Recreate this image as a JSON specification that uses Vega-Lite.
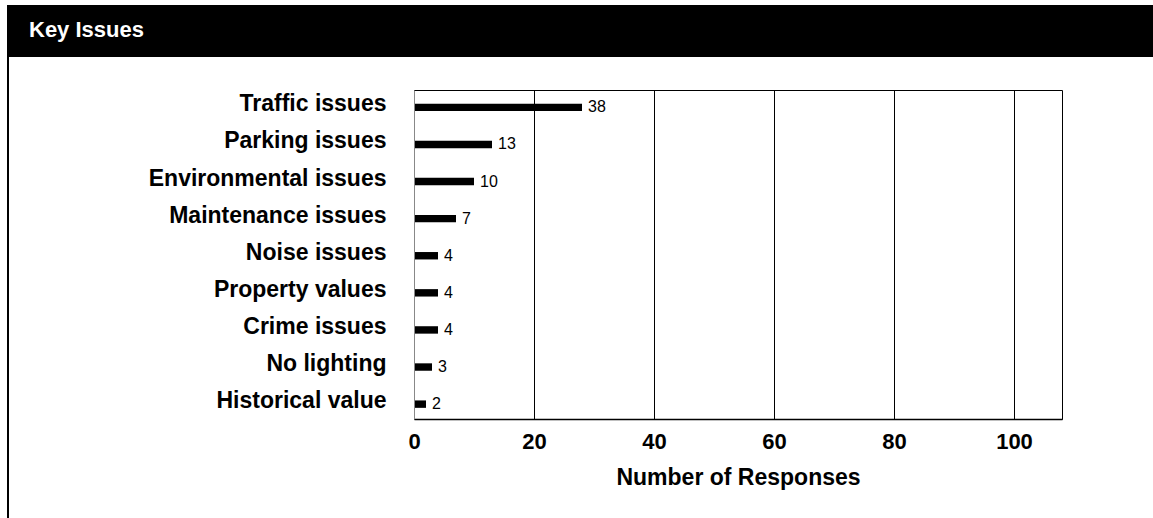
{
  "$schema": "https://vega.github.io/schema/vega-lite/v6.json",
  "padding": {"left": 7, "top": 5, "right": 0, "bottom": 0},
  "background": "white",
  "spacing": 0,
  "config": {"font": "Liberation Sans", "view": {"stroke": null}, "concat": {"spacing": 0}},
  "hconcat": [
    {
      "data": {"values": []},
      "mark": "rect",
      "encoding": {},
      "width": 2,
      "height": 513,
      "view": {"fill": "#000", "stroke": null}
    },
    {
      "spacing": 32,
      "vconcat": [
        {
          "data": {"values": []},
          "mark": "rect",
          "encoding": {},
          "width": 1144,
          "height": 52,
          "view": {"fill": "#000", "stroke": null},
          "title": {
            "text": "Key Issues",
            "orient": "bottom",
            "anchor": "start",
            "offset": -20,
            "baseline": "alphabetic",
            "dx": 20,
            "color": "#fff",
            "fontSize": 22,
            "fontWeight": "bold",
            "font": "Liberation Sans"
          }
        },
        {
          "spacing": 0,
          "hconcat": [
            {
              "data": {"values": []},
              "mark": "rect",
              "encoding": {},
              "width": 1,
              "height": 1,
              "view": {"stroke": null}
            },
            {
              "data": {
                "values": [
                  {"issue": "Traffic issues", "responses": 28, "label": "38"},
                  {"issue": "Parking issues", "responses": 13, "label": "13"},
                  {"issue": "Environmental issues", "responses": 10, "label": "10"},
                  {"issue": "Maintenance issues", "responses": 7, "label": "7"},
                  {"issue": "Noise issues", "responses": 4, "label": "4"},
                  {"issue": "Property values", "responses": 4, "label": "4"},
                  {"issue": "Crime issues", "responses": 4, "label": "4"},
                  {"issue": "No lighting", "responses": 3, "label": "3"},
                  {"issue": "Historical value", "responses": 2, "label": "2"}
                ]
              },
              "width": 648,
              "height": 329,
              "view": {"stroke": "#000", "strokeWidth": 1},
              "encoding": {
                "y": {
                  "field": "issue",
                  "type": "nominal",
                  "sort": null,
                  "scale": {"paddingInner": 0.8, "paddingOuter": 0.334, "align": 0.55},
                  "axis": {
                    "title": null,
                    "ticks": false,
                    "labelPadding": 28,
                    "labelFontSize": 23,
                    "labelFontWeight": "bold",
                    "labelColor": "#000",
                    "labelBaseline": "alphabetic",
                    "labelOffset": 4,
                    "labelLimit": 400,
                    "domainColor": "#888",
                    "domainWidth": 1,
                    "minExtent": 403,
                    "maxExtent": 403,
                    "zindex": 1
                  }
                },
                "x": {
                  "field": "responses",
                  "type": "quantitative",
                  "scale": {"domain": [0, 108], "nice": false},
                  "axis": {
                    "title": "Number of Responses",
                    "values": [0, 20, 40, 60, 80, 100],
                    "ticks": false,
                    "labelFlush": false,
                    "labelPadding": 29,
                    "labelBaseline": "alphabetic",
                    "labelFontSize": 22,
                    "labelFontWeight": "bold",
                    "labelColor": "#000",
                    "grid": true,
                    "gridColor": "#000",
                    "gridWidth": 1,
                    "gridOpacity": 1,
                    "domainColor": "#000",
                    "domainWidth": 1.5,
                    "titleFontSize": 23,
                    "titleFontWeight": "bold",
                    "titleColor": "#000",
                    "titlePadding": 14
                  }
                }
              },
              "layer": [
                {"mark": {"type": "bar", "color": "#000"}},
                {
                  "mark": {"type": "text", "align": "left", "baseline": "middle", "dx": 6, "fontSize": 16, "color": "#000"},
                  "encoding": {"text": {"field": "label"}}
                }
              ]
            }
          ]
        }
      ]
    }
  ]
}
